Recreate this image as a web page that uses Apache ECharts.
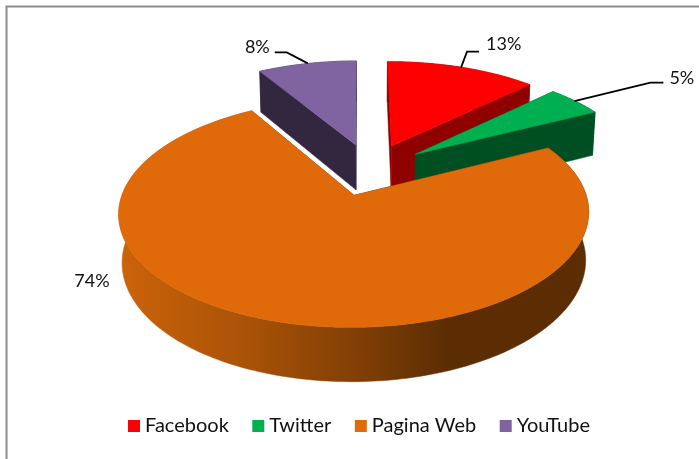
<!DOCTYPE html>
<html>
<head>
<meta charset="utf-8">
<style>html,body{margin:0;padding:0;background:#fff}#c{width:699px;height:459px}</style>
<script src="https://cdn.jsdelivr.net/npm/echarts@6/dist/echarts.min.js"></script>
</head>
<body>
<div id="c"></div>
<script>
var categories = ['Facebook', 'Twitter', 'Pagina Web', 'YouTube'];
var values = [12.8, 4.8, 74.0, 8.4];

var colors = ['#ff0000', '#00b050', '#e0690a', '#8064a2'];
var darkColors = ['#8f0000', '#004f23', '#5c2d03', '#33273f'];
// drawing order, back to front
var paintOrder = [3, 0, 1, 2];
// leader geometry relative to the slice's outer mid point, and the label spot
var labelLayout = [
  { line: [[-3, 0], [3, -16], [15, -16]], dx: 22, dy: -23, align: 'left' },
  { line: [[-1, 0], [75, -18.5], [88, -18.5]], dx: 94, dy: -23, align: 'left' },
  { line: null, abs: [92, 281], align: 'center' },
  { line: [[-1, 0], [-22, -11], [-34, -11]], dx: -39, dy: -16, align: 'right' }
];

// camera model
var CAM = { X0: 370.4, Y0: 169.2, A: 223.6, S: 103.4, p: 0.1508, q: 0.013, D: 46.9 };
var EXPLODE = 0.253;
var FIRST_ANGLE = -0.4 * Math.PI / 180;

function project(u, v, low) {
  var w = 1 - CAM.p * v + (low ? CAM.q : 0);
  return [CAM.X0 + CAM.A * u / w, CAM.Y0 + (CAM.S * v + (low ? CAM.D : 0)) / w];
}

var total = values.reduce(function (a, b) { return a + b; }, 0);
function sliceAngles(i) {
  var before = 0;
  for (var k = 0; k < i; k++) before += values[k];
  return [FIRST_ANGLE + before / total * Math.PI * 2, FIRST_ANGLE + (before + values[i]) / total * Math.PI * 2];
}
function arcPoints(i, low) {
  var a = sliceAngles(i), mid = (a[0] + a[1]) / 2;
  var ox = EXPLODE * Math.sin(mid), oy = -EXPLODE * Math.cos(mid);
  var n = Math.max(6, Math.ceil((a[1] - a[0]) / 0.02)), pts = [];
  for (var s = 0; s <= n; s++) {
    var t = a[0] + (a[1] - a[0]) * s / n;
    pts.push(project(ox + Math.sin(t), oy - Math.cos(t), low));
  }
  return { pts: pts, apex: project(ox, oy, low) };
}

function renderSlice(i) {
  return function () {
    var top = arcPoints(i, false), low = arcPoints(i, true);
    var children = [];
    var dark = darkColors[i];
    function poly(points, fill) {
      children.push({
        type: 'polygon', shape: { points: points },
        style: { fill: fill, stroke: fill, lineWidth: 0.5 }
      });
    }
    var last = top.pts.length - 1;
    // start radial face
    poly([top.apex, top.pts[0], low.pts[0], low.apex], dark);
    // outer wall
    var wallFill = dark;
    if (i === 2) {
      wallFill = new echarts.graphic.LinearGradient(118, 0, 588, 0, [
        { offset: 0, color: '#cc6309' },
        { offset: 0.28, color: '#a85207' },
        { offset: 0.52, color: '#7f3e05' },
        { offset: 0.70, color: '#5c2d03' },
        { offset: 1, color: '#5c2d03' }
      ], true);
    }
    poly(top.pts.concat(low.pts.slice().reverse()), wallFill);
    // end radial face
    poly([top.apex, top.pts[last], low.pts[last], low.apex], dark);
    // top face
    poly([top.apex].concat(top.pts), colors[i]);

    // label and leader
    var m = top.pts[Math.round(last / 2)];
    var L = labelLayout[i];
    if (L.line) {
      children.push({
        type: 'polyline',
        shape: { points: L.line.map(function (o) { return [m[0] + o[0], m[1] + o[1]]; }) },
        style: { stroke: '#000', lineWidth: 1.8, fill: null }
      });
    }
    var lx = L.abs ? L.abs[0] : m[0] + L.dx, ly = L.abs ? L.abs[1] : m[1] + L.dy;
    children.push({
      type: 'text',
      style: {
        text: Math.round(values[i] / total * 100) + '%',
        x: lx, y: ly, align: L.align, verticalAlign: 'middle',
        font: '18px Lato, "Open Sans", sans-serif', fill: '#111'
      }
    });
    return { type: 'group', children: children };
  };
}

var series = paintOrder.map(function (i) {
  return {
    type: 'custom', name: categories[i], coordinateSystem: 'none',
    silent: true, animation: false, clip: false,
    itemStyle: { color: colors[i] },
    data: [[values[i]]],
    renderItem: renderSlice(i)
  };
});

var chart = echarts.init(document.getElementById('c'), null, { renderer: 'canvas' });
chart.setOption({
  animation: false,
  backgroundColor: '#fff',
  graphic: [{
    type: 'polyline', silent: true, z: 0,
    shape: { points: [[6.5, 459], [6.5, 6.5], [699, 6.5]] },
    style: { stroke: '#8c8c8c', lineWidth: 2, fill: null }
  }],
  legend: {
    data: categories, left: 128, top: 416, padding: 0, orient: 'horizontal',
    icon: 'rect', itemWidth: 12, itemHeight: 12, itemGap: 23.5,
    textStyle: { fontFamily: 'Lato, "Open Sans", sans-serif', fontSize: 20, color: '#111' }
  },
  series: series
});
</script>
</body>
</html>
